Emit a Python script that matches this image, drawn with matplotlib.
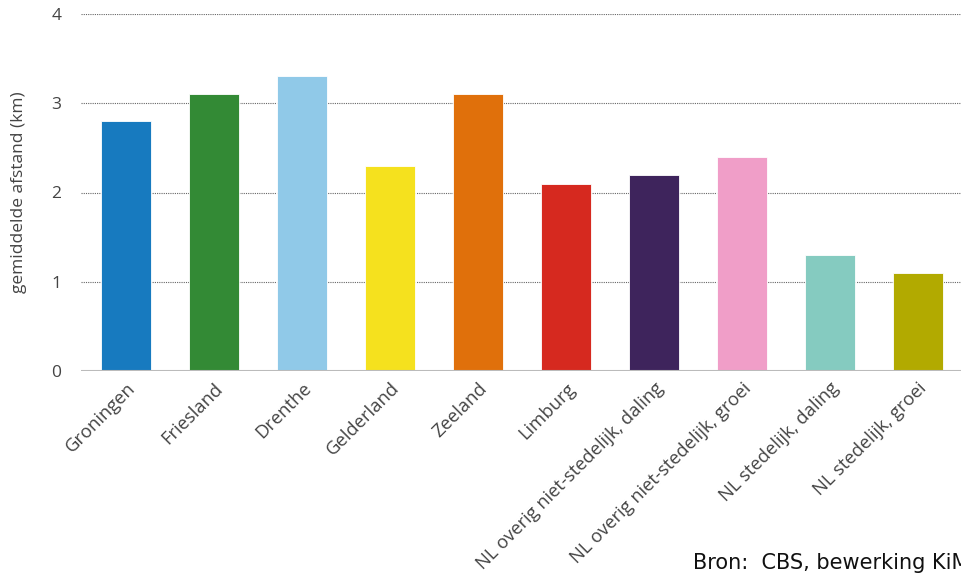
import matplotlib.pyplot as plt

# gegevens uit de grafiek
categorieen = ["Groningen", "Friesland", "Drenthe", "Gelderland", "Zeeland", "Limburg",
               "NL overig niet-stedelijk, daling", "NL overig niet-stedelijk, groei",
               "NL stedelijk, daling", "NL stedelijk, groei"]
afstand = [2.8, 3.1, 3.3, 2.3, 3.1, 2.1, 2.2, 2.4, 1.3, 1.1]
kleuren = ["#177abf", "#338a35", "#90c9e8", "#f5e11e", "#e0700b", "#d6291f",
           "#3e245c", "#f09ec8", "#85cbc0", "#b2aa00"]

plt.rcParams['font.family'] = ['Open Sans', 'DejaVu Sans']

fig = plt.figure(figsize=(9.61, 5.76), dpi=100)
ax = fig.add_axes([81 / 961, 1 - 371 / 576, 880 / 961, 357 / 576])

ax.bar(range(len(categorieen)), afstand, width=0.57, color=kleuren,
       edgecolor='white', linewidth=0.6, zorder=3)

ax.set_xlim(-0.51, 9.49)
ax.set_ylim(0, 4)
ax.set_yticks([0, 1, 2, 3, 4])
ax.yaxis.grid(True, linestyle=(0, (1, 1)), color='#666666', linewidth=0.8, zorder=0)
ax.axhline(0, color='#bbbbbb', linewidth=1.5, zorder=4)

for s in ax.spines.values():
    s.set_visible(False)

ax.tick_params(axis='y', length=0, pad=14, labelsize=12.5, labelcolor='#444444')
ax.tick_params(axis='x', length=0, pad=6, labelsize=13.2, labelcolor='#444444')
ax.set_xticks(range(len(categorieen)))
ax.set_xticklabels(categorieen, rotation=45, ha='right', rotation_mode='anchor')

ax.set_ylabel("gemiddelde afstand (km)", fontsize=12.5, color='#444444', labelpad=18)

# bronvermelding loopt in het origineel over de rand
fig.text(693 / 961, 1 - 563 / 576, "Bron:  CBS, bewerking KiM", fontsize=15,
         family='DejaVu Sans', color='#111111', va='center', ha='left')

fig.savefig("out.png", dpi=100)
